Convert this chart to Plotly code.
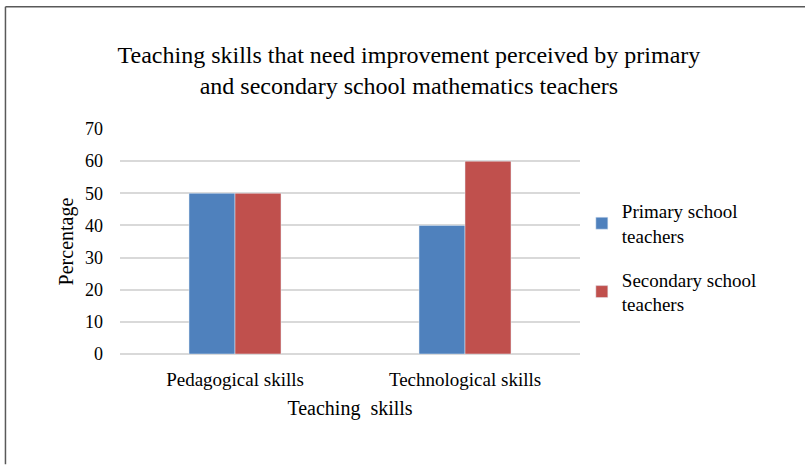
import plotly.graph_objects as go

categories = ["Pedagogical skills", "Technological skills"]
primary = [50, 40]
secondary = [50, 60]
y_ticks = [0, 10, 20, 30, 40, 50, 60, 70]

serif = "Times New Roman, Liberation Serif, serif"

fig = go.Figure()
fig.add_trace(go.Bar(x=categories, y=primary, name="Primary school<br>teachers",
                     marker_color="#4F81BD", legendgroup="p"))
fig.add_trace(go.Bar(x=categories, y=secondary, name="Secondary school<br>teachers",
                     marker_color="#C0504D", legendgroup="s"))

fig.update_layout(
    width=805, height=465,
    margin=dict(l=120, r=225, t=129, b=110.5),
    paper_bgcolor="white", plot_bgcolor="white",
    font=dict(family=serif, color="#000000"),
    title=dict(text="Teaching skills that need improvement perceived by primary<br>and secondary school mathematics teachers",
               x=0.508, xanchor="center", xref="container", y=0.865, yanchor="middle",
               font=dict(size=24, family=serif, color="#000")),
    barmode="group", bargap=0.6, bargroupgap=0,
    showlegend=True,
    legend=dict(x=1.004, y=0.72, xanchor="left", yanchor="top",
                font=dict(size=19, family=serif), tracegroupgap=16,
                traceorder="grouped", itemwidth=30, bgcolor="rgba(0,0,0,0)"),
    shapes=[
        dict(type="line", xref="paper", yref="paper", x0=-0.249, x1=1.49, y0=1.543, y1=1.543,
             line=dict(color="#595959", width=1.5)),
        dict(type="line", xref="paper", yref="paper", x0=-0.249, x1=-0.249, y0=1.543, y1=-0.49,
             line=dict(color="#595959", width=1.5)),
    ],
)

fig.update_xaxes(
    showline=False, showgrid=False, ticks="",
    tickfont=dict(size=19, family=serif), ticklabelstandoff=12,
    title=dict(text="Teaching  skills", font=dict(size=20, family=serif), standoff=11),
)
fig.update_yaxes(
    range=[0, 70], tickvals=y_ticks, ticks="",
    showgrid=True, gridcolor="#D9D9D9", gridwidth=1.5,
    zeroline=True, zerolinecolor="#D9D9D9", zerolinewidth=1.5,
    tickfont=dict(size=18, family=serif), ticklabelstandoff=16,
    title=dict(text="Percentage", font=dict(size=20, family=serif), standoff=6),
)

fig.write_html("out.html", config={"displayModeBar": False},
               post_script="document.body.style.margin='0';")
